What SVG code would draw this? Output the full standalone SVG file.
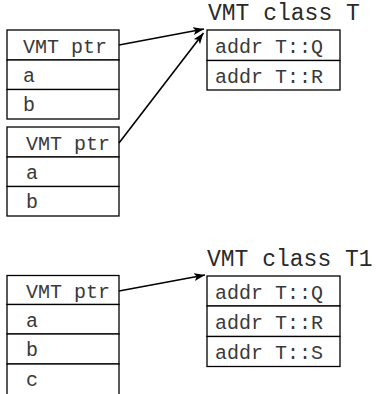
<svg xmlns="http://www.w3.org/2000/svg" width="377" height="394" viewBox="0 0 377 394">
<defs>
<style>
.cell{fill:#fff;stroke:#000;stroke-width:1.3}
.t{font-family:"Liberation Mono","Courier New",monospace;font-size:20px;fill:#3a3a3a}
.title{font-family:"Liberation Mono","Courier New",monospace;font-size:23px;fill:#2a2a2a}
.conn{stroke:#000;stroke-width:1.6;fill:none;marker-end:url(#ah)}
</style>
<marker id="ah" markerWidth="12" markerHeight="10" refX="11" refY="4" orient="auto" markerUnits="userSpaceOnUse">
<path d="M0,0 L11,4 L0,8 L2.5,4 z" fill="#000"/>
</marker>
</defs>
<rect width="377" height="394" fill="#fff"/>
<g id="obj1">
<rect class="cell" x="7" y="30" width="112" height="30"/>
<rect class="cell" x="7" y="60" width="112" height="29.5"/>
<rect class="cell" x="7" y="89.5" width="112" height="29.5"/>
<text class="t" x="23" y="53">VMT ptr</text>
<text class="t" x="23" y="82">a</text>
<text class="t" x="23" y="111">b</text>
</g>
<g id="obj2">
<rect class="cell" x="7" y="127" width="112" height="30"/>
<rect class="cell" x="7" y="157" width="112" height="29.5"/>
<rect class="cell" x="7" y="186.5" width="112" height="29.5"/>
<text class="t" x="26" y="150">VMT ptr</text>
<text class="t" x="26" y="179">a</text>
<text class="t" x="26" y="208">b</text>
</g>
<g id="vmtT">
<text class="title" x="208" y="20">VMT class T</text>
<rect class="cell" x="207" y="30" width="133" height="30.5"/>
<rect class="cell" x="207" y="60.5" width="133" height="29.5"/>
<text class="t" x="215" y="53">addr T::Q</text>
<text class="t" x="215" y="83">addr T::R</text>
</g>
<g id="obj3">
<rect class="cell" x="7" y="275.5" width="112" height="29"/>
<rect class="cell" x="7" y="304.5" width="112" height="29.5"/>
<rect class="cell" x="7" y="334" width="112" height="30"/>
<rect class="cell" x="7" y="364" width="112" height="40"/>
<text class="t" x="26" y="298">VMT ptr</text>
<text class="t" x="26" y="327">a</text>
<text class="t" x="26" y="356">b</text>
<text class="t" x="26" y="386">c</text>
</g>
<g id="vmtT1">
<text class="title" x="207" y="266">VMT class T1</text>
<rect class="cell" x="207" y="276" width="133" height="30"/>
<rect class="cell" x="207" y="306" width="133" height="30.5"/>
<rect class="cell" x="207" y="336.5" width="133" height="30"/>
<text class="t" x="215" y="299">addr T::Q</text>
<text class="t" x="215" y="329">addr T::R</text>
<text class="t" x="215" y="359">addr T::S</text>
</g>
<g id="connectors">
<line class="conn" x1="119" y1="45" x2="204" y2="29"/>
<line class="conn" x1="119" y1="143" x2="203.5" y2="33"/>
<line class="conn" x1="119" y1="291" x2="205" y2="275"/>
</g>
</svg>
